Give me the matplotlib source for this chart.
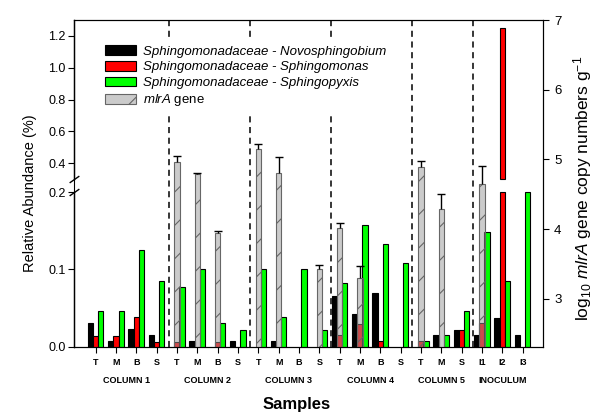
#!/usr/bin/env python3

import matplotlib

matplotlib.use("Agg")
import matplotlib.pyplot as plt
import numpy as np
from matplotlib import transforms
from matplotlib.path import Path

plt.rcParams["font.family"] = "Liberation Sans"
plt.rcParams["mathtext.fontset"] = "custom"
plt.rcParams["mathtext.rm"] = "Liberation Sans"
plt.rcParams["mathtext.it"] = "Liberation Sans:italic"
plt.rcParams["hatch.linewidth"] = 0.8

# --- data -------------------------------------------------------------
samples = ["T", "M", "B", "S"] * 4 + ["T", "M", "S"] + ["I1", "I2", "I3"]
groups = ["COLUMN 1", "COLUMN 2", "COLUMN 3", "COLUMN 4", "COLUMN 5", "INOCULUM"]
group_sizes = [4, 4, 4, 4, 3, 3]

# relative abundance (%)
novosphingobium = [0.031, 0.008, 0.023, 0.015,
                   0.0, 0.008, 0.0, 0.008,
                   0.0, 0.008, 0.0, 0.0,
                   0.066, 0.043, 0.070, 0.0,
                   0.0, 0.0155, 0.0225,
                   0.0155, 0.038, 0.0155]
sphingomonas = [0.0146, 0.0146, 0.0385, 0.007,
                0.007, 0.0, 0.007, 0.0,
                0.0, 0.0, 0.0, 0.0,
                0.0152, 0.030, 0.0075, 0.0,
                0.0075, 0.0, 0.0225,
                0.031, 1.25, 0.0]
sphingopyxis = [0.047, 0.047, 0.125, 0.0856,
                0.077, 0.1006, 0.0306, 0.022,
                0.1006, 0.0383, 0.1006, 0.022,
                0.082, 0.158, 0.1335, 0.109,
                0.0075, 0.015, 0.047,
                0.149, 0.0855, 0.25]

# log10 mlrA gene copy numbers g-1 (nan = not measured)
nan = np.nan
mlra = [nan, nan, nan, nan,
        4.97, 4.79, 3.94, nan,
        5.15, 4.80, nan, 3.43,
        4.01, 3.30, nan, nan,
        4.89, 4.29, nan,
        4.65, nan, nan]
mlra_err = [nan, nan, nan, nan,
            0.08, 0.01, 0.04, nan,
            0.07, 0.23, nan, 0.05,
            0.08, 0.17, nan, nan,
            0.09, 0.22, nan,
            0.26, nan, nan]

LOW_TOP, HIGH_BOT = 0.2, 0.3  # broken left axis: 0-0.2 | 0.3-1.3


def _fwd(v):
    v = np.asarray(v, dtype=float)
    return np.where(v <= LOW_TOP, v * 775,
                    np.where(v < HIGH_BOT, 155 + (v - LOW_TOP) * 130,
                             168 + (v - HIGH_BOT) * 159))


def _inv(p):
    p = np.asarray(p, dtype=float)
    return np.where(p <= 155, p / 775,
                    np.where(p < 168, LOW_TOP + (p - 155) / 130,
                             HIGH_BOT + (p - 168) / 159))


fig = plt.figure(figsize=(6, 4.17), dpi=100)
ax1 = fig.add_axes([0.1233, 0.1679, 0.7817, 0.7841])
ax1.set_yscale("function", functions=(_fwd, _inv))
ax1.set_ylim(0, 1.3)

x = np.arange(len(samples))
ax1.set_xlim(-1.07, len(samples))
W = 0.26

handles = []
for vals, off, col in [(novosphingobium, -0.26, "black"),
                       (sphingomonas, 0.0, "#ff0000"),
                       (sphingopyxis, 0.25, "#00ff00")]:
    v = np.asarray(vals)
    low = np.minimum(v, LOW_TOP)
    up = np.where(v > HIGH_BOT, v - HIGH_BOT, 0)
    m = low > 0
    b = ax1.bar(x[m] + off, low[m], W, color=col, edgecolor="black",
                linewidth=0.8, zorder=3)
    mu = up > 0
    if mu.any():
        ax1.bar(x[mu] + off, up[mu], W, bottom=HIGH_BOT, color=col,
                edgecolor="black", linewidth=0.8, zorder=3)
    handles.append(b)

# group separators
ends = np.cumsum(group_sizes)[:-1]
for e in ends:
    ax1.axvline(e - 0.42, color="black", lw=1.1, ls=(0, (4, 3)), zorder=1)

# left spine with break
ax1.spines["left"].set_visible(False)
yx = transforms.blended_transform_factory(ax1.transAxes, ax1.transData)
ax1.plot([0, 0], [0, LOW_TOP], color="black", lw=1, transform=yx, clip_on=False)
ax1.plot([0, 0], [HIGH_BOT, 1.3], color="black", lw=1, transform=yx, clip_on=False)
brk = Path([(-1, -0.7), (1, 0.7)], [Path.MOVETO, Path.LINETO])
ax1.plot([0, 0], [LOW_TOP, HIGH_BOT], ls="none", marker=brk, ms=7, mec="black",
         mew=1, transform=yx, clip_on=False)

ax1.set_yticks([0.0, 0.1, 0.2, 0.4, 0.6, 0.8, 1.0, 1.2])
ax1.set_yticklabels(["0.0", "0.1", "0.2", "0.4", "0.6", "0.8", "1.0", "1.2"])
ax1.tick_params(axis="y", direction="out", length=4, labelsize=9, pad=2)
ax1.set_xticks(x, samples, fontweight="bold")
ax1.tick_params(axis="x", direction="out", length=4, labelsize=6.5, pad=4)
ax1.yaxis.set_minor_locator(matplotlib.ticker.NullLocator())

xy = transforms.blended_transform_factory(ax1.transData, ax1.transAxes)
start = 0
for name, n in zip(groups, group_sizes):
    ax1.text(x[start:start + n].mean(), -0.104, name, transform=xy,
             ha="center", va="center", fontsize=6.5, fontweight="bold")
    start += n

# right axis: mlrA gene
ax2 = ax1.twinx()
mv = np.asarray(mlra)
me = np.asarray(mlra_err)
ok = ~np.isnan(mv)
gb = ax2.bar(x[ok], mv[ok], W, facecolor=(0.6, 0.6, 0.6, 0.5),
             edgecolor="#666666", linewidth=0.8, hatch="/", zorder=2)
ax2.vlines(x[ok], mv[ok], mv[ok] + me[ok], color="black", lw=1, zorder=3)
ax2.plot(x[ok], mv[ok] + me[ok], ls="none", marker="_", ms=6, mew=1,
         color="black", zorder=3)
handles.append(gb)
ax2.set_ylim(2.31, 7)
ax2.set_yticks([3, 4, 5, 6, 7])
ax2.tick_params(axis="y", direction="out", length=4, labelsize=9.5, pad=4)

leg = ax2.legend(handles,
                 ["Sphingomonadaceae - Novosphingobium",
                  "Sphingomonadaceae - Sphingomonas",
                  "Sphingomonadaceae - Sphingopyxis",
                  "$\\mathit{mlrA}$ gene"],
                 loc="upper left", bbox_to_anchor=(0.044, 0.955), fontsize=9.5,
                 frameon=True, fancybox=False, edgecolor="none",
                 facecolor="white", framealpha=1, handlelength=2.3,
                 handleheight=0.75, handletextpad=0.55, labelspacing=0.25,
                 borderpad=0.3)
for t in leg.get_texts()[:3]:
    t.set_fontstyle("italic")

fig.text(30 / 600, 1 - 193 / 417, "Relative Abundance (%)", rotation=90,
         ha="center", va="center", fontsize=10.5)
fig.text(583 / 600, 1 - 188 / 417,
         "log$_{10}$ $\\mathit{mlrA}$ gene copy numbers g$^{-1}$",
         rotation=90, ha="center", va="center", fontsize=12.5)
fig.text(297 / 600, 1 - 405 / 417, "Samples", ha="center", va="center",
         fontsize=12, fontweight="bold")

fig.savefig("out.png", dpi=100)
